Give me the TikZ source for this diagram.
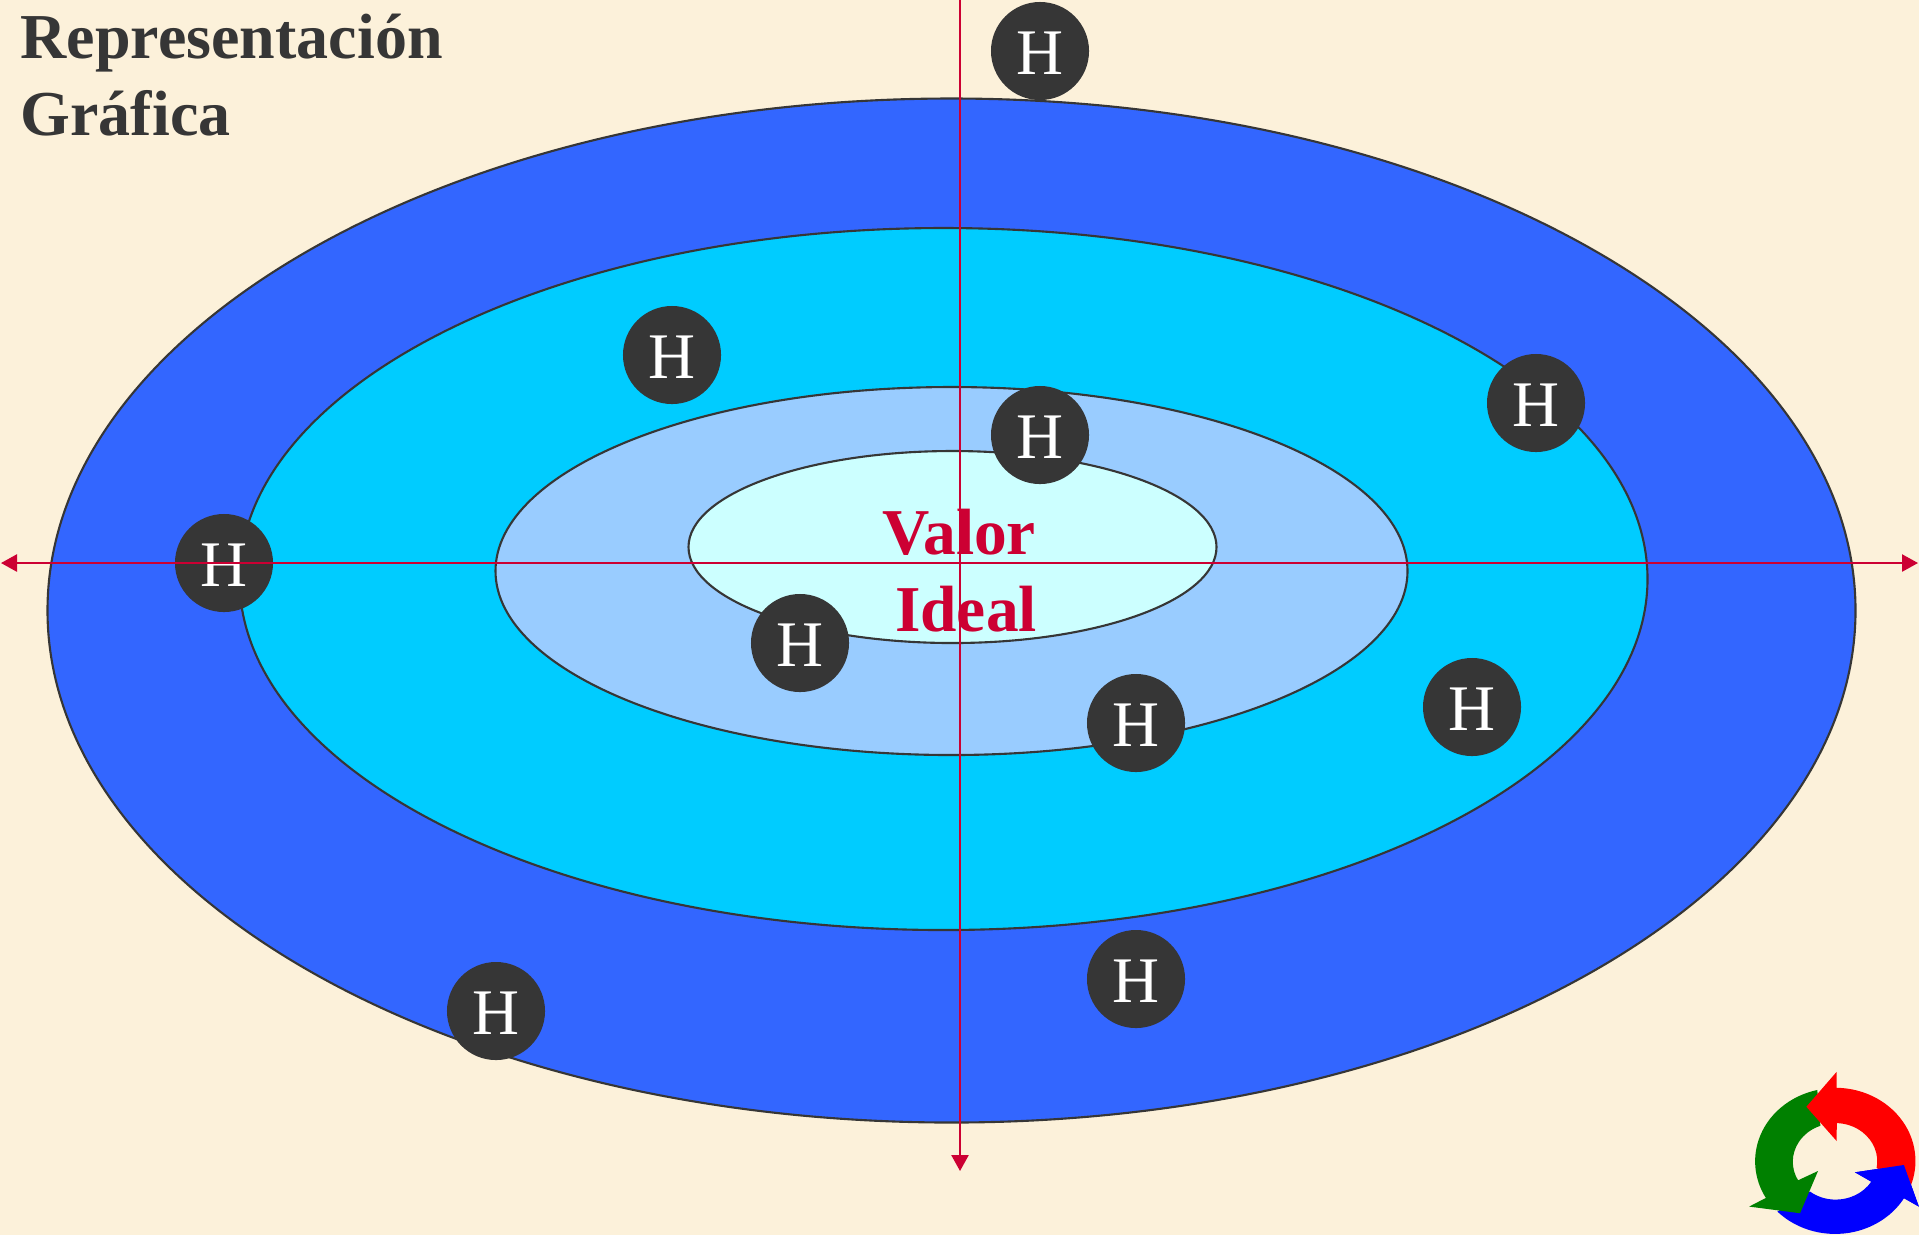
\documentclass[tikz,border=0pt]{standalone}
\usepackage{fontspec}
\setmainfont{Liberation Serif}
\usepackage{xcolor}
\usepackage{tikz}
\usetikzlibrary{arrows.meta}
\definecolor{paper}{HTML}{FCF1DA}
\definecolor{darkgray}{HTML}{363636}
\definecolor{crimson}{HTML}{CC0033}
\definecolor{ringa}{HTML}{3366FF}
\definecolor{ringb}{HTML}{00CCFF}
\definecolor{ringc}{HTML}{99CCFF}
\definecolor{ringd}{HTML}{CCFFFF}
\tikzset{
    ring/.style={draw=darkgray, line width=0.6pt},
    hnode/.style={circle, fill=darkgray, text=white, minimum size=0.98cm, inner sep=0pt, text height=0.47cm, text depth=0pt, font=\fontsize{18.5}{22}\selectfont},
    axisline/.style={crimson, line width=0.7pt},
    axistip/.tip={Triangle[length=0.16cm, width=0.17cm]},
    title/.style={anchor=base west, inner sep=0pt, text=darkgray, font=\fontsize{18.2}{22}\selectfont\bfseries},
    valor/.style={anchor=base, inner sep=0pt, text=crimson, font=\fontsize{18.6}{22}\selectfont\bfseries}
}
\begin{document}
\begin{tikzpicture}[x=0.01cm, y=-0.01cm]
    \useasboundingbox (0, 0) rectangle (1919, 1235);
    \fill[paper] (0, 0) rectangle (1919, 1235);

    % anillos
    \draw[ring, fill=ringa] (951.5, 610.5) ellipse [x radius=904, y radius=512];
    \draw[ring, fill=ringb] (943.5, 579) ellipse [x radius=704, y radius=351];
    \draw[ring, fill=ringc] (951.5, 571) ellipse [x radius=456, y radius=184];
    \draw[ring, fill=ringd] (952.5, 547) ellipse [x radius=264, y radius=96];

    % titulo
    \node[title] (tituloa) at (20, 58) {Representación};
    \node[title] (titulob) at (20, 135) {Gráfica};

    % puntos H
    \node[hnode] (h1) at (1040, 51) {H};
    \node[hnode] (h2) at (672, 355) {H};
    \node[hnode] (h3) at (1536, 403) {H};
    \node[hnode] (h4) at (1040, 435) {H};
    \node[hnode] (h5) at (224, 563) {H};
    \node[hnode] (h6) at (800, 643) {H};
    \node[hnode] (h7) at (1136, 723) {H};
    \node[hnode] (h8) at (1472, 707) {H};
    \node[hnode] (h9) at (1136, 979) {H};
    \node[hnode] (h10) at (496, 1011) {H};

    % ejes
    \coordinate (oeste) at (1, 563);
    \coordinate (este) at (1918, 563);
    \coordinate (norte) at (960, 0);
    \coordinate (sur) at (960, 1171);
    \draw[axisline, axistip-axistip] (oeste) -- (este);
    \draw[axisline, -axistip] (norte) -- (sur);

    % valor ideal
    \node[valor] (valor) at (959, 554) {Valor};
    \node[valor] (ideal) at (966, 631) {Ideal};

    % flechas del ciclo
    \begin{scope}[shift={(1835.3, 1161.3)}, x=0.003333cm, y=0.003333cm]
        \fill[blue] (-174, -151) arc[start angle=-136, end angle=-30.6, x radius=241, y radius=220]
            -- (251, -136) -- (206, -11) -- (59, -33) -- (108, -61)
            arc[start angle=-32, end angle=-128, x radius=126, y radius=115] -- cycle;
        \fill[green!50!black] (-112, -57) arc[start angle=209, end angle=110, x radius=126, y radius=115]
            -- (103:241 and 220) arc[start angle=103, end angle=210, x radius=241, y radius=220]
            -- (-259, -136) -- (-106, -156) -- (-52, -29) -- cycle;
        \fill[red] (-87, 164) -- (4, 269) -- (4, 221)
            arc[start angle=89, end angle=-19, x radius=241, y radius=220]
            -- (-10:126 and 115) arc[start angle=-10, end angle=88, x radius=126, y radius=115]
            -- (4, 61) -- cycle;
        \fill[blue] (206, -11) -- (59, -33) -- (108, -61) -- (150, -90) -- (206, -111) -- (251, -136) -- cycle;
    \end{scope}
\end{tikzpicture}
\end{document}
